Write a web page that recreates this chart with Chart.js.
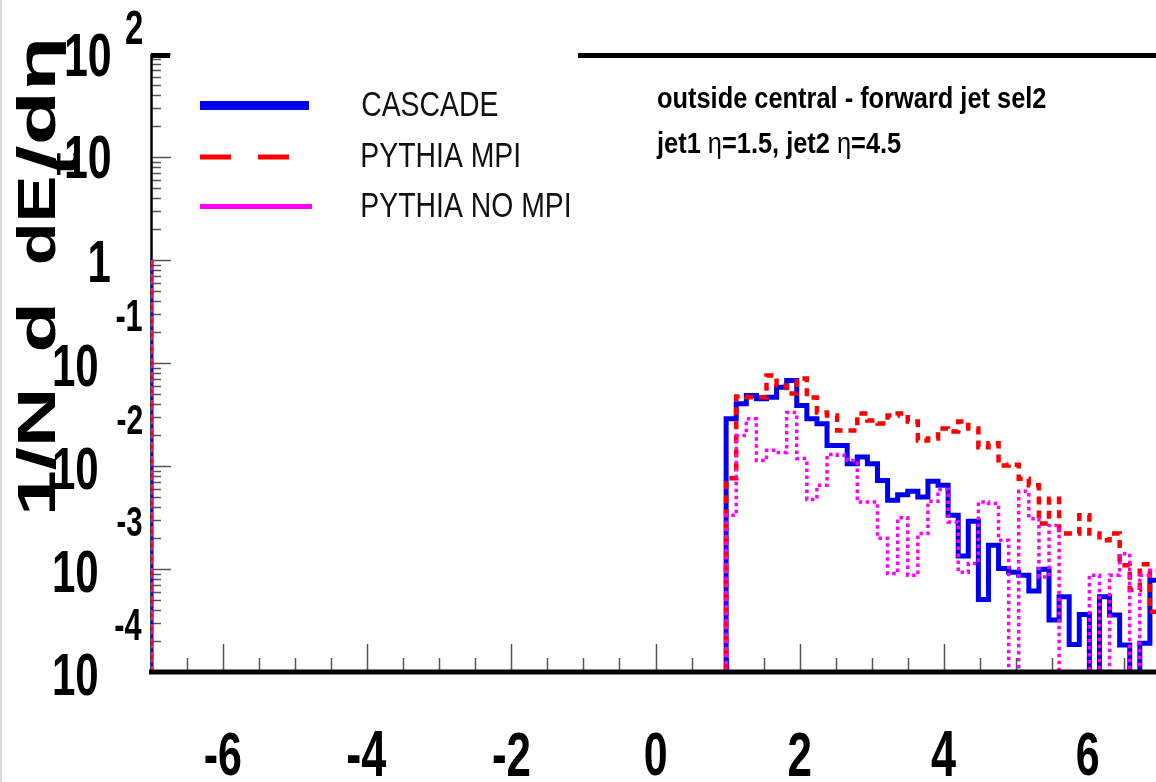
<!DOCTYPE html>
<html>
<head>
<meta charset="utf-8">
<title>outside central - forward jet sel2</title>
<script src="https://cdn.jsdelivr.net/npm/chart.js@4.4.1/dist/chart.umd.min.js"></script>
<style>
  html, body { margin: 0; padding: 0; background: #fff; overflow: hidden; }
  #wrap { width: 1156px; height: 782px; overflow: hidden; }
  canvas { display: block; }
</style>
</head>
<body>
<div id="wrap"><canvas id="etFlow" width="1170" height="782"></canvas></div>
<script>
// histogram: 100 bins of width 0.14 over -7..7; only the filled bins from 0.98 on are listed
const binWidth = 0.14;
const firstEdge = 0.98;
const spikeEdge = -7;      // first bin sits on the left frame
const spikeValue = 1;

const cascade = [
  0.0287, 0.0402, 0.0483, 0.0449, 0.0466, 0.0582, 0.0675, 0.0386, 0.0287, 0.0257,
  0.0158, 0.0158, 0.0105, 0.0122, 0.0105, 0.00724, 0.00464, 0.00527, 0.00568, 0.0050,
  0.0071, 0.00649, 0.00332, 0.00134, 0.0029, 0.000506, 0.0017, 0.00101, 0.000931, 0.000871,
  0.00061, 0.000995, 0.000319, 0.000537, 0.000185, 0.000362, 0, 0.000537, 0.000357, 0.000183,
  0, 0.00019, 0.000778
];
const pythiaMpi = [
  0.00759, 0.0472, 0.0466, 0.0466, 0.0755, 0.0604, 0.0505, 0.0706, 0.0462, 0.033,
  0.0309, 0.0221, 0.0221, 0.0324, 0.0277, 0.0259, 0.0309, 0.0324, 0.027, 0.0177,
  0.0185, 0.0231, 0.0216, 0.027, 0.0231, 0.0152, 0.0166, 0.0101, 0.0103, 0.00753,
  0.00649, 0.00276, 0.00482, 0.00221, 0.00221, 0.00332, 0.00221, 0.0019, 0.00221, 0.00109,
  0.000624, 0.00111, 0.000384
];
const pythiaNoMpi = [
  0.00332, 0.0198, 0.0287, 0.0113, 0.0142, 0.0135, 0.033, 0.0118, 0.00474, 0.00649,
  0.0129, 0.0127, 0.0113, 0.00447, 0.00447, 0.00199, 0.000904, 0.00314, 0.000871, 0.00221,
  0.00454, 0.00593, 0.00286, 0.000931, 0.00113, 0.00447, 0.00432, 0.0019, 0, 0.00568,
  0.00308, 0.000837, 0.00265, 0, 0, 0, 0.000871, 0, 0.000871, 0.00141,
  0, 0.000871, 0.000973
];

const seriesNames = ["CASCADE", "PYTHIA MPI", "PYTHIA NO MPI"];
const xTicks = [-6, -4, -2, 0, 2, 4, 6];
const yDecades = [-4, -3, -2, -1, 0, 1, 2];
const infoLines = ["outside central - forward jet sel2", "jet1 \u03b7=1.5, jet2 \u03b7=4.5"];

const FLOOR = 1e-6;  // empty bins fall below the frame
const FAMILY = '"Liberation Sans", Arial, sans-serif';

function histPoints(values) {
  const pts = [{ x: spikeEdge, y: spikeValue }, { x: spikeEdge, y: FLOOR }];
  values.forEach((v, i) => {
    pts.push({ x: firstEdge + i * binWidth, y: v > 0 ? v : FLOOR });
  });
  const last = values[values.length - 1];
  pts.push({ x: firstEdge + values.length * binWidth, y: last > 0 ? last : FLOOR });
  return pts;
}

// draw text so that its ink fills top..bottom, horizontally squeezed
function inkText(ctx, text, font, x, align, top, bottom, squeeze) {
  ctx.save();
  ctx.font = font;
  ctx.textAlign = "left";
  ctx.textBaseline = "alphabetic";
  const m = ctx.measureText(text);
  const sy = (bottom - top) / (m.actualBoundingBoxAscent + m.actualBoundingBoxDescent);
  const sx = sy * squeeze;
  const w = (m.actualBoundingBoxLeft + m.actualBoundingBoxRight) * sx;
  const left = align === "right" ? x - w : align === "center" ? x - w / 2 : x;
  ctx.translate(left + m.actualBoundingBoxLeft * sx, top + m.actualBoundingBoxAscent * sy);
  ctx.scale(sx, sy);
  ctx.fillText(text, 0, 0);
  ctx.restore();
}

// rotated token of the y title: ink runs from yStart (bottom) up to yEnd
function titleToken(ctx, text, size, baseX, yStart, yEnd, kH) {
  ctx.save();
  ctx.font = "bold " + size + "px " + FAMILY;
  ctx.textAlign = "left";
  ctx.textBaseline = "alphabetic";
  const m = ctx.measureText(text);
  const kLen = (yStart - yEnd) / (m.actualBoundingBoxLeft + m.actualBoundingBoxRight);
  ctx.translate(baseX, yStart - m.actualBoundingBoxLeft * kLen);
  ctx.rotate(-Math.PI / 2);
  ctx.scale(kLen, kH);
  ctx.fillText(text, 0, 0);
  ctx.restore();
}

// bold text, but eta drawn in the lighter symbol weight
function infoText(ctx, line, size) {
  let xPos = 0;
  line.split(/(\u03b7)/).forEach(part => {
    if (!part) return;
    ctx.font = (part === "\u03b7" ? "" : "bold ") + size + "px " + FAMILY;
    ctx.fillText(part, xPos, 0);
    xPos += ctx.measureText(part).width;
  });
}

const rootFrame = {
  id: "rootFrame",
  beforeDatasetsDraw(chart) {
    const { ctx, chartArea: a, scales: { x, y } } = chart;
    ctx.save();
    ctx.fillStyle = "#d9d9d9";
    ctx.fillRect(0, 0, 2, chart.height);

    // ticks inside the frame
    ctx.strokeStyle = "#555";
    ctx.lineWidth = 1.5;
    ctx.beginPath();
    for (let d = -4; d <= 2; d++) {
      for (let k = 1; k <= 9; k++) {
        const v = k * Math.pow(10, d);
        if (v > 100) break;
        const py = Math.round(y.getPixelForValue(v)) + 0.5;
        ctx.moveTo(a.left, py);
        ctx.lineTo(a.left + (k === 1 ? 20 : 10), py);
      }
    }
    for (let t = -6.5; t < 7; t += 0.5) {
      const px = Math.round(x.getPixelForValue(t)) + 0.5;
      const major = xTicks.includes(t);
      ctx.moveTo(px, a.bottom);
      ctx.lineTo(px, a.bottom - (major ? 28 : 14));
    }
    ctx.stroke();

    ctx.strokeStyle = "#000";
    ctx.lineWidth = 2.5;
    ctx.beginPath();
    ctx.moveTo(a.left + 0.5, a.top);
    ctx.lineTo(a.left + 0.5, a.bottom);
    ctx.stroke();
    ctx.restore();
  },
  afterDatasetsDraw(chart) {
    const { ctx, chartArea: a, scales: { x, y } } = chart;
    ctx.save();
    // x axis and top frame (the legend box hides the middle of the top edge)
    ctx.fillStyle = "#000";
    ctx.fillRect(a.left - 2, a.bottom - 2.5, chart.width, 5);
    ctx.fillRect(a.left, a.top - 1, 19, 5);
    ctx.fillRect(578, a.top - 1, chart.width, 5);

    // tick labels
    const SQ = 0.7;
    const f = "bold 60px " + FAMILY;
    yDecades.forEach(d => {
      const p = y.getPixelForValue(Math.pow(10, d));
      if (d === 0) {
        inkText(ctx, "1", f, 110, "right", p - 19, p + 22, SQ);
      } else if (d === 1) {
        inkText(ctx, "10", f, 110, "right", p - 22, p + 22, SQ);
      } else if (d > 1) {
        inkText(ctx, "10", f, 110, "right", p - 21, p + 23, SQ);
        inkText(ctx, String(d), f, 142, "right", p - 43, p - 10, SQ);
      } else {
        inkText(ctx, "10", f, 97, "right", p - 19, p + 24, SQ);
        inkText(ctx, String(d), f, 142, "right", p - 62, p - 32, SQ);
      }
    });
    xTicks.forEach(t => {
      inkText(ctx, String(t), f, x.getPixelForValue(t), "center", 732, 776, SQ);
    });

    // y title: 1/N d dE_t/d eta
    const kH = 0.88;
    titleToken(ctx, "1/N", 60, 55, 512, 392, kH);
    titleToken(ctx, "d", 60, 55, 350, 307, kH);
    titleToken(ctx, "dE", 60, 55, 263, 178, kH);
    titleToken(ctx, "t", 42, 77, 176, 152, kH);
    titleToken(ctx, "/d\u03b7", 60, 55, 170, 42, kH);

    // legend
    const ds = chart.data.datasets;
    const rows = [105.5, 157, 206.5];
    const lens = [309, 290, 312];
    const widths = [9, 5, 5];
    ds.forEach((d, i) => {
      ctx.strokeStyle = d.borderColor;
      ctx.lineWidth = widths[i];
      ctx.setLineDash(i === 1 ? [31, 27] : []);
      ctx.beginPath();
      ctx.moveTo(200, rows[i]);
      ctx.lineTo(lens[i], rows[i]);
      ctx.stroke();
      ctx.fillStyle = "#111";
      inkText(ctx, d.label, "34px " + FAMILY, 362, "left", rows[i] - 14, rows[i] + 10, 0.8);
    });
    ctx.setLineDash([]);

    // info text
    ctx.fillStyle = "#000";
    ctx.textAlign = "left";
    ctx.textBaseline = "alphabetic";
    ctx.font = "bold 28px " + FAMILY;
    const m = ctx.measureText(infoLines[0]);
    const sy = (114 - 87) / (m.actualBoundingBoxAscent + m.actualBoundingBoxDescent);
    const sx = (1045 - 657) / (m.actualBoundingBoxLeft + m.actualBoundingBoxRight);
    const base = 87 + m.actualBoundingBoxAscent * sy;
    infoLines.forEach((line, i) => {
      ctx.save();
      ctx.translate(657, base + i * 45);
      ctx.scale(sx, sy);
      infoText(ctx, line, 28);
      ctx.restore();
    });
    ctx.restore();
  }
};

const lineStyle = { fill: false, stepped: true, pointRadius: 0, tension: 0, borderJoinStyle: "miter", borderCapStyle: "butt" };

new Chart(document.getElementById("etFlow"), {
  type: "line",
  data: {
    datasets: [
      { ...lineStyle, label: seriesNames[0], data: histPoints(cascade), borderColor: "#0000f0", borderWidth: 5, order: 3 },
      { ...lineStyle, label: seriesNames[1], data: histPoints(pythiaMpi), borderColor: "#ff0000", borderWidth: 4.5, borderDash: [8, 6], order: 2 },
      { ...lineStyle, label: seriesNames[2], data: histPoints(pythiaNoMpi), borderColor: "#ff00ff", borderWidth: 3.5, borderDash: [3.5, 3.5], order: 1 }
    ]
  },
  options: {
    responsive: false,
    animation: false,
    layout: { padding: { left: 151, right: 10, top: 54, bottom: 110 } },
    plugins: { legend: { display: false }, tooltip: { enabled: false } },
    scales: {
      x: { type: "linear", min: -7, max: 7, display: false },
      y: { type: "logarithmic", min: 1e-4, max: 100, display: false }
    }
  },
  plugins: [rootFrame]
});
</script>
</body>
</html>
